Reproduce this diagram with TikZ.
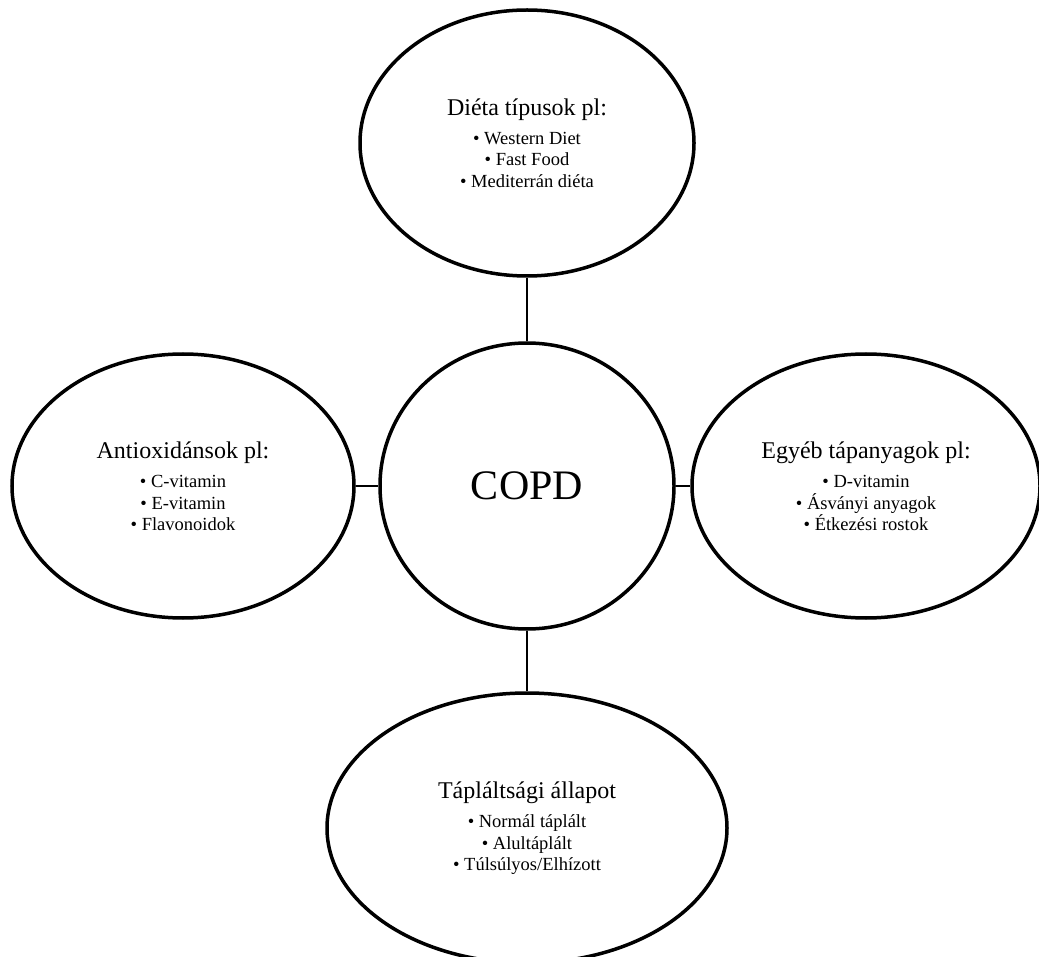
\documentclass[tikz,border=0pt]{standalone}
\usepackage{fontspec}
\setmainfont{Liberation Serif}
\usetikzlibrary{shapes.geometric}
\tikzset{
  bubble/.style={draw=black, line width=3.5pt, ellipse, inner sep=0pt, align=center,
    font=\fontsize{18.5}{21.5}\selectfont},
  link/.style={draw=black, line width=2pt},
}
\newcommand{\btitle}[1]{{\fontsize{24}{24}\selectfont #1}\\[8pt]}
\begin{document}
\begin{tikzpicture}[x=1pt,y=-1pt]
\useasboundingbox (0,0) rectangle (1039,957);
\node[bubble, minimum width=334pt, minimum height=266pt] (diet) at (527,143)
  {\btitle{Diéta típusok pl:}• Western Diet\\ • Fast Food\\ • Mediterrán diéta};
\node[bubble, minimum width=294pt, minimum height=286pt, font=\fontsize{42}{42}\selectfont] (copd) at (527,486) {COPD};
\node[bubble, minimum width=342pt, minimum height=264pt] (anti) at (183,486)
  {\btitle{Antioxidánsok pl:}• C-vitamin\\ • E-vitamin\\ • Flavonoidok};
\node[bubble, minimum width=348pt, minimum height=264pt] (egyeb) at (866,486)
  {\btitle{Egyéb tápanyagok pl:}• D-vitamin\\ • Ásványi anyagok\\ • Étkezési rostok};
\node[bubble, minimum width=400pt, minimum height=270pt] (taplalt) at (527,828)
  {\btitle{Tápláltsági állapot}• Normál táplált\\ • Alultáplált\\ • Túlsúlyos/Elhízott};
\draw[link] (diet.south) -- (copd.north);
\draw[link] (copd.south) -- (taplalt.north);
\draw[link] (anti.east) -- (copd.west);
\draw[link] (copd.east) -- (egyeb.west);
\end{tikzpicture}
\end{document}
